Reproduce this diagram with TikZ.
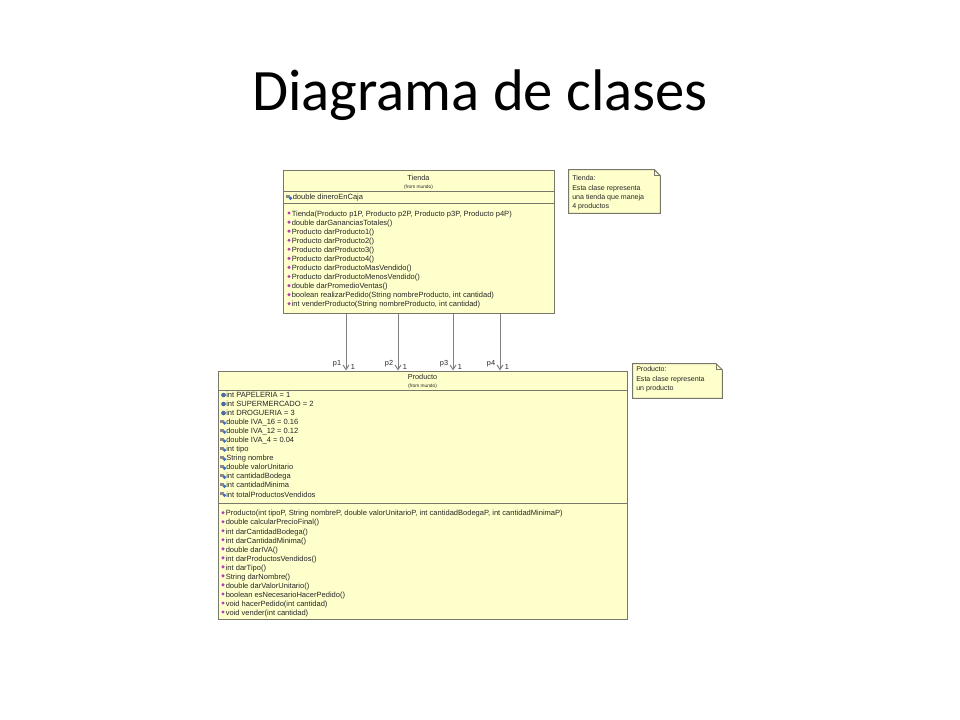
\documentclass[tikz,border=0pt]{standalone}
\usepackage{fontspec}
\setmainfont{Liberation Sans}
\newfontfamily\slidefont{Carlito}
\usetikzlibrary{positioning,arrows.meta,calc}
\definecolor{umlfill}{HTML}{FFFFCC}
\definecolor{umlline}{HTML}{77776A}
\definecolor{opcolor}{HTML}{B040B8}
\definecolor{attrblue}{HTML}{3C70C8}
\definecolor{keygray}{HTML}{8A8A8A}

\begin{document}
\begin{tikzpicture}[
    x=0.75pt, y=-0.75pt,
    umlbox/.style={rectangle, draw=umlline, fill=umlfill, line width=0.75pt, inner sep=0pt},
    notebox/.style={rectangle, inner sep=0pt},
    member/.style={anchor=west, inner sep=0pt, font=\fontsize{5.65}{6}\selectfont, text=black!85},
    classname/.style={inner sep=0pt, font=\fontsize{5.5}{6}\selectfont, text=black!85},
    fromlabel/.style={inner sep=0pt, font=\fontsize{3.6}{4}\selectfont, text=black!85},
    notetext/.style={anchor=north west, inner sep=0pt, align=left,
                     font=\fontsize{5.3}{6.9}\selectfont, text=black!85},
    rolelabel/.style={inner sep=0pt, font=\fontsize{5.5}{6}\selectfont, text=black!85},
    assoc/.style={-{Straight Barb[length=3.5pt, width=4.5pt]}, draw=black!50, line width=0.75pt},
    divider/.style={draw=umlline, line width=0.75pt}
]
\useasboundingbox (0,0) rectangle (960,720);

% Title
\node[anchor=base, inner sep=0pt, font=\slidefont\fontsize{44}{50}\selectfont] (title) at (480,111) {Diagrama de clases};

% Classes
\node[umlbox, minimum width=203.25pt, minimum height=106.5pt] (tienda) at (418.5,242) {};
\node[umlbox, minimum width=306.75pt, minimum height=186pt] (producto) at (422.5,495) {};

\draw[divider] (tienda.west |- 0,192) -- (tienda.east |- 0,192);
\draw[divider] (tienda.west |- 0,204) -- (tienda.east |- 0,204);
\draw[divider] (producto.west |- 0,390) -- (producto.east |- 0,390);
\draw[divider] (producto.west |- 0,503) -- (producto.east |- 0,503);

% Tienda
\node[classname] (tname) at (418.5,178.3) {Tienda};
\node[fromlabel] (tfrom) at (418.5,187.5) {(from mundo)};
\fill[keygray] (286,195) rectangle (289.5,198.5);
\fill[attrblue] (290.5,198.3) circle (1.8);
\node[member] (tattr) at (292.5,197.3) {double dineroEnCaja};
\foreach \txt [count=\i] in {
    {Tienda(Producto p1P, Producto p2P, Producto p3P, Producto p4P)},
    double darGananciasTotales(),
    Producto darProducto1(),
    Producto darProducto2(),
    Producto darProducto3(),
    Producto darProducto4(),
    Producto darProductoMasVendido(),
    Producto darProductoMenosVendido(),
    double darPromedioVentas(),
    {boolean realizarPedido(String nombreProducto, int cantidad)},
    {int venderProducto(String nombreProducto, int cantidad)}} {
  \pgfmathsetmacro{\yy}{214.3+(\i-1)*9.07}
  \fill[opcolor] (289,\yy-1.3) circle (1.7);
  \node[member] (tm\i) at (291.5,\yy) {\txt};
}

% Producto
\node[classname] (pname) at (422.5,376.7) {Producto};
\node[fromlabel] (pfrom) at (422.5,385.8) {(from mundo)};
\foreach \txt [count=\i] in {
    int PAPELERIA = 1,
    int SUPERMERCADO = 2,
    int DROGUERIA = 3,
    double IVA\_16 = 0.16,
    double IVA\_12 = 0.12,
    double IVA\_4 = 0.04,
    int tipo,
    String nombre,
    double valorUnitario,
    int cantidadBodega,
    int cantidadMinima,
    int totalProductosVendidos} {
  \pgfmathsetmacro{\yy}{395+(\i-1)*9.03}
  \ifnum\i<4
    \filldraw[fill=attrblue, draw=black!70, line width=0.3pt] (223.5,\yy) circle (2);
  \else
    \fill[keygray] (220,\yy-2.5) rectangle (223.5,\yy+1);
    \fill[attrblue] (224.5,\yy+1) circle (1.8);
  \fi
  \node[member] (pa\i) at (226,\yy) {\txt};
}
\foreach \txt [count=\i] in {
    {Producto(int tipoP, String nombreP, double valorUnitarioP, int cantidadBodegaP, int cantidadMinimaP)},
    double calcularPrecioFinal(),
    int darCantidadBodega(),
    int darCantidadMinima(),
    double darIVA(),
    int darProductosVendidos(),
    int darTipo(),
    String darNombre(),
    double darValorUnitario(),
    boolean esNecesarioHacerPedido(),
    void hacerPedido(int cantidad),
    void vender(int cantidad)} {
  \pgfmathsetmacro{\yy}{514+(\i-1)*9.03}
  \fill[opcolor] (223,\yy-1.3) circle (1.7);
  \node[member] (pm\i) at (225.5,\yy) {\txt};
}

% Associations
\foreach \x/\n in {346/1, 398/2, 453/3, 500/4} {
  \coordinate (a\n) at (\x,340);
  \draw[assoc] (a\n |- tienda.south) -- (a\n |- producto.north);
  \node[rolelabel] (r\n) at (\x-9,364) {p\n};
  \node[rolelabel] (m\n) at (\x+7,366.5) {1};
}

% Notes
\node[notebox, minimum width=68.25pt, minimum height=32.25pt] (tnote) at (614.5,191.5) {};
\draw[umlline, fill=umlfill, line width=0.75pt] (tnote.south west) -- (tnote.north west)
  -- ($(tnote.north east)+(-6,0)$) -- ($(tnote.north east)+(0,6)$) -- (tnote.south east) -- cycle;
\draw[umlline, line width=0.5pt] ($(tnote.north east)+(-6,0)$) -- ++(0,6) -- ++(6,0);
\node[notetext] (ttext) at (572,175.5) {Tienda:\\Esta clase representa\\una tienda que maneja\\4 productos};

\node[notebox, minimum width=66.75pt, minimum height=25.5pt] (pnote) at (677.5,381) {};
\draw[umlline, fill=umlfill, line width=0.75pt] (pnote.south west) -- (pnote.north west)
  -- ($(pnote.north east)+(-6,0)$) -- ($(pnote.north east)+(0,6)$) -- (pnote.south east) -- cycle;
\draw[umlline, line width=0.5pt] ($(pnote.north east)+(-6,0)$) -- ++(0,6) -- ++(6,0);
\node[notetext] (ptext) at (636,366.5) {Producto:\\Esta clase representa\\un producto};

\end{tikzpicture}
\end{document}
